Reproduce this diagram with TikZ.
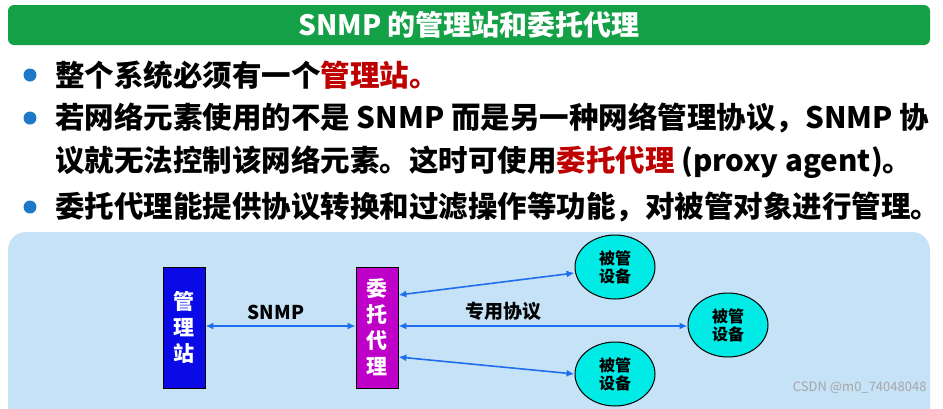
\documentclass[tikz,border=0pt]{standalone}
\usepackage{fontspec}
\setmainfont{Noto Sans CJK SC}[BoldFont={* Black}]
\usetikzlibrary{arrows.meta,shapes.geometric}
\definecolor{tgreen}{RGB}{20,160,70}
\definecolor{panel}{RGB}{198,226,246}
\definecolor{arr}{RGB}{30,110,240}
\definecolor{dred}{RGB}{190,0,0}
\definecolor{bul}{RGB}{30,120,200}
\definecolor{devc}{RGB}{0,235,230}
\definecolor{proxc}{RGB}{190,0,200}
\definecolor{mgrc}{RGB}{10,10,230}
\tikzset{
 line/.style={arr,line width=1.6pt,{Latex[length=8pt,width=7pt]}-{Latex[length=8pt,width=7pt]}},
 dev/.style={ellipse,draw=black,line width=1pt,fill=devc,minimum width=80pt,minimum height=64pt,inner sep=0pt,align=center,font=\bfseries\fontsize{16}{18}\selectfont},
 vbox/.style={draw=black,line width=0.8pt,minimum width=42pt,minimum height=121pt,inner sep=0pt,align=center,text=white,font=\bfseries\fontsize{21}{26}\selectfont},
 btxt/.style={anchor=west,font=\bfseries\fontsize{29.5}{32}\selectfont,inner sep=0pt},
 dot/.style={circle,fill=bul,minimum size=13pt,inner sep=0pt}
}
\begin{document}
\begin{tikzpicture}[x=1pt,y=-1pt]
\useasboundingbox (0,0) rectangle (943,408);
\fill[white] (0,0) rectangle (943,408);
\fill[tgreen,rounded corners=6pt] (8,5) rectangle (930,45);
\node[text=white,font=\bfseries\fontsize{28}{30}\selectfont] (title) at (469,25) {SNMP 的管理站和委托代理};
\node[dot] (d1) at (30,75) {};
\node[dot] (d2) at (30,118) {};
\node[dot] (d3) at (30,207) {};
\node[btxt] (t1) at (55,75) {整个系统必须有一个\textcolor{dred}{管理站。}};
\node[btxt] (t2) at (55,118) {若网络元素使用的不是 SNMP 而是另一种网络管理协议，SNMP 协};
\node[btxt] (t3) at (55,162) {议就无法控制该网络元素。这时可使用\textcolor{dred}{委托代理} (proxy agent)。};
\node[btxt] (t4) at (55,207) {委托代理能提供协议转换和过滤操作等功能，对被管对象进行管理。};
\fill[panel,rounded corners=18pt] (8,232) rectangle (930,430);
\node[vbox,fill=mgrc] (m) at (184,327.5) {管\\理\\站};
\node[vbox,fill=proxc] (p) at (377,327.5) {委\\托\\代\\理};
\node[dev] (e1) at (615,267) {被管\\设备};
\node[dev] (e2) at (728,325) {被管\\设备};
\node[dev] (e3) at (615,374) {被管\\设备};
\draw[line] (m.east |- 0,326) -- (p.west |- 0,326);
\draw[line] (p.east |- 0,295) -- (e1.west |- 0,273);
\draw[line] (p.east |- 0,326) -- (e2.west |- 0,326);
\draw[line] (p.east |- 0,357) -- (e3.west |- 0,374);
\node[font=\bfseries\fontsize{19}{22}\selectfont] (snmp) at (276,312) {SNMP};
\node[font=\bfseries\fontsize{19}{22}\selectfont] (zy) at (503,311) {专用协议};
\node[anchor=east,text=gray!70,font=\fontsize{13}{15}\selectfont] (wm) at (930,388) {CSDN @m0\_74048048};
\end{tikzpicture}
\end{document}
